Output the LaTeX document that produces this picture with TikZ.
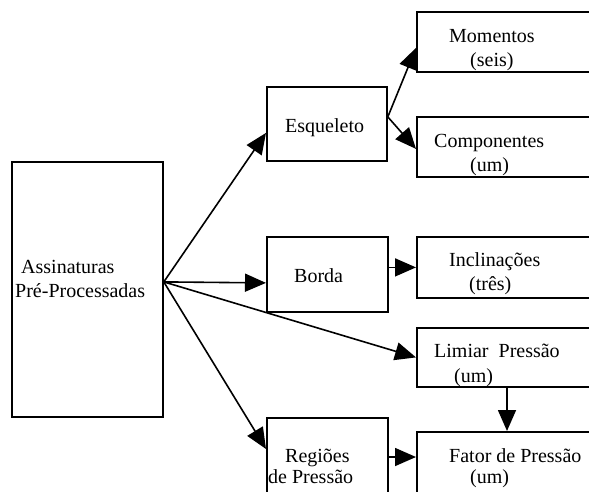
\documentclass[tikz,border=0pt]{standalone}
\usepackage{fontspec}
\setmainfont{Liberation Serif}
\usetikzlibrary{arrows.meta,positioning}
\tikzstyle{orientedarc}=[-{Triangle[length=21pt,width=18pt]},line width=1.6pt]
\tikzstyle{diagelement}=[draw,line width=1.8pt,anchor=north west,inner sep=0pt]
\tikzstyle{elementlabel}=[anchor=base west,inner sep=0pt,font=\fontsize{20}{24}\selectfont]

\begin{document}
\begin{tikzpicture}[x=1pt,y=-1pt]
\useasboundingbox (0,0) rectangle (589,491);
\clip (0,0) rectangle (589,491);

\node[diagelement,minimum width=151pt,minimum height=255pt] (SIG) at (11,161) {};
\node[diagelement,minimum width=120pt,minimum height=74pt] (ESQ) at (266,86) {};
\node[diagelement,minimum width=121pt,minimum height=75pt] (BOR) at (266,236) {};
\node[diagelement,minimum width=121pt,minimum height=90pt] (REG) at (266,417) {};
\node[diagelement,minimum width=200pt,minimum height=60pt] (MOM) at (416,11) {};
\node[diagelement,minimum width=200pt,minimum height=60pt] (COM) at (416,116) {};
\node[diagelement,minimum width=200pt,minimum height=61pt] (INC) at (416,236) {};
\node[diagelement,minimum width=200pt,minimum height=59pt] (LIM) at (416,327) {};
\node[diagelement,minimum width=200pt,minimum height=80pt] (FAT) at (416,431) {};

\node[elementlabel] (SIGL1) at ([shift={(10,112)}]SIG.north west) {Assinaturas};
\node[elementlabel] (SIGL2) at ([shift={(4,136)}]SIG.north west) {Pré-Processadas};
\node[elementlabel] (ESQL1) at ([shift={(19,46)}]ESQ.north west) {Esqueleto};
\node[elementlabel] (BORL1) at ([shift={(28,46)}]BOR.north west) {Borda};
\node[elementlabel] (REGL1) at ([shift={(19,45)}]REG.north west) {Regiões};
\node[elementlabel] (REGL2) at ([shift={(2,66)}]REG.north west) {de Pressão};
\node[elementlabel] (MOML1) at ([shift={(33,31)}]MOM.north west) {Momentos};
\node[elementlabel] (MOML2) at ([shift={(54,55)}]MOM.north west) {(seis)};
\node[elementlabel] (COML1) at ([shift={(18,31)}]COM.north west) {Componentes};
\node[elementlabel] (COML2) at ([shift={(54,55)}]COM.north west) {(um)};
\node[elementlabel] (INCL1) at ([shift={(33,30)}]INC.north west) {Inclinações};
\node[elementlabel] (INCL2) at ([shift={(53,54)}]INC.north west) {(três)};
\node[elementlabel] (LIML1) at ([shift={(18,30)}]LIM.north west) {Limiar\hspace{0.5em}Pressão};
\node[elementlabel] (LIML2) at ([shift={(38,55)}]LIM.north west) {(um)};
\node[elementlabel] (FATL1) at ([shift={(33,31)}]FAT.north west) {Fator de Pressão};
\node[elementlabel] (FATL2) at ([shift={(54,52)}]FAT.north west) {(um)};

\coordinate (SIGE) at ([yshift=7.5pt]SIG.east);
\coordinate (ESQE) at ([yshift=7pt]ESQ.east);
\coordinate (FATW) at ([yshift=-26pt]FAT.north west);

\draw[orientedarc] (SIGE) -- ([yshift=-9pt]ESQ.west);
\draw[orientedarc] (SIGE) -- ([yshift=-8.5pt]BOR.west);
\draw[orientedarc] (SIGE) -- (LIM.west);
\draw[orientedarc] (SIGE) -- ([yshift=-32pt]REG.north west);

\draw[orientedarc] (ESQE) -- ([yshift=-6pt]MOM.west);
\draw[orientedarc] (ESQE) -- ([yshift=-2pt]COM.west);

\draw[orientedarc] (BOR.east |- INC.west) -- (INC.west);
\draw[orientedarc] (REG.east |- FATW) -- (FATW);
\draw[orientedarc] ([xshift=91pt]LIM.south west) -- ([xshift=91pt]FAT.north west);

\end{tikzpicture}
\end{document}
